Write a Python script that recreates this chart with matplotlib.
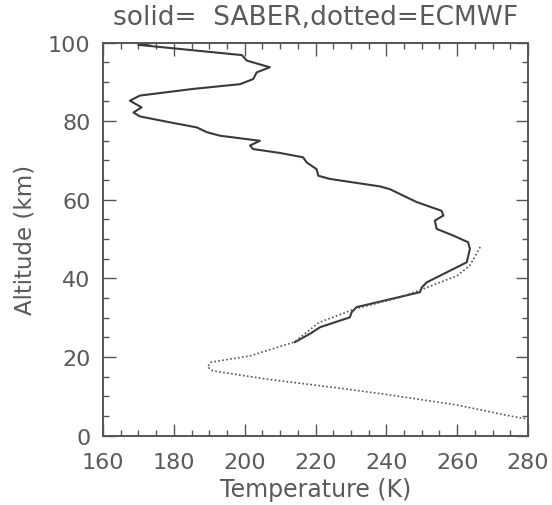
import matplotlib
matplotlib.use("Agg")
import matplotlib.pyplot as plt
from matplotlib.ticker import MultipleLocator

# SABER (solid) temperature profile, K vs altitude, km
saber_temp = [175.0, 170.0, 199.2, 200.6, 207.1, 203.4, 202.4, 198.7, 185.5, 170.4,
              167.6, 170.9, 168.6, 170.4, 178.9, 186.5, 189.3, 193.0, 204.3, 201.5,
              202.4, 210.0, 216.5, 217.5, 220.3, 220.8, 224.1, 238.2, 241.0, 248.6,
              255.6, 256.1, 253.7, 254.2, 258.9, 263.1, 263.6, 262.7, 251.4, 250.0,
              249.5, 231.6, 230.2, 229.7, 221.3, 218.4, 214.2]
saber_alt = [100.0, 99.4, 96.8, 95.4, 93.7, 92.4, 90.7, 89.4, 88.2, 86.5,
             85.2, 83.5, 82.2, 81.2, 79.7, 78.4, 77.2, 76.3, 75.0, 73.8,
             72.9, 71.9, 70.8, 69.5, 67.8, 66.1, 65.3, 63.4, 62.7, 59.4,
             57.2, 56.0, 54.7, 52.6, 50.9, 49.2, 47.5, 44.1, 39.0, 37.7,
             36.5, 32.7, 31.4, 30.1, 27.6, 25.9, 23.8]

# ECMWF (dotted) temperature profile
ecmwf_temp = [266.5, 265.0, 263.5, 260.0, 251.5, 244.0, 231.0, 221.0, 214.0, 201.5,
              190.5, 189.5, 191.0, 206.0, 225.0, 240.0, 260.0, 275.0, 280.0]
ecmwf_alt = [48.0, 45.5, 43.2, 40.7, 37.7, 35.2, 32.2, 28.8, 23.8, 20.3,
             18.7, 17.5, 16.5, 14.4, 12.3, 10.5, 7.8, 5.0, 4.2]

x_ticks = [160, 180, 200, 220, 240, 260, 280]
y_ticks = [0, 20, 40, 60, 80, 100]

title = "solid=  SABER,dotted=ECMWF"
xlabel = "Temperature (K)"
ylabel = "Altitude (km)"

txt = "#5a5a5a"
plt.rcParams['font.family'] = ['DejaVu Sans']

fig = plt.figure(figsize=(5.52, 5.06), dpi=100)
ax = fig.add_axes([103/552, 1-436.7/506, 425/552, 393.2/506])

ax.plot(saber_temp, saber_alt, color="#3a3a3a", lw=1.5, solid_joinstyle='round')
ax.plot(ecmwf_temp, ecmwf_alt, color="#555555", lw=1.2, linestyle=(0, (1, 1.4)))

ax.set_xlim(160, 280)
ax.set_ylim(0, 100)
ax.set_xticks(x_ticks)
ax.set_yticks(y_ticks)
ax.xaxis.set_minor_locator(MultipleLocator(5))
ax.yaxis.set_minor_locator(MultipleLocator(5))
ax.tick_params(which='both', direction='in', top=True, right=True,
               color="#555555", width=1.0, labelsize=16, labelcolor=txt)
ax.tick_params(axis='x', pad=12)
ax.tick_params(axis='y', pad=9)
ax.tick_params(which='major', length=9)
ax.tick_params(which='minor', length=4)
for s in ax.spines.values():
    s.set_color("#555555")
    s.set_linewidth(1.4)

ax.set_title(title, fontsize=19, color=txt, pad=13)
ax.set_xlabel(xlabel, fontsize=17, color=txt, labelpad=3)
ax.set_ylabel(ylabel, fontsize=16.5, color=txt, labelpad=8)

fig.savefig("out.png", dpi=100)
